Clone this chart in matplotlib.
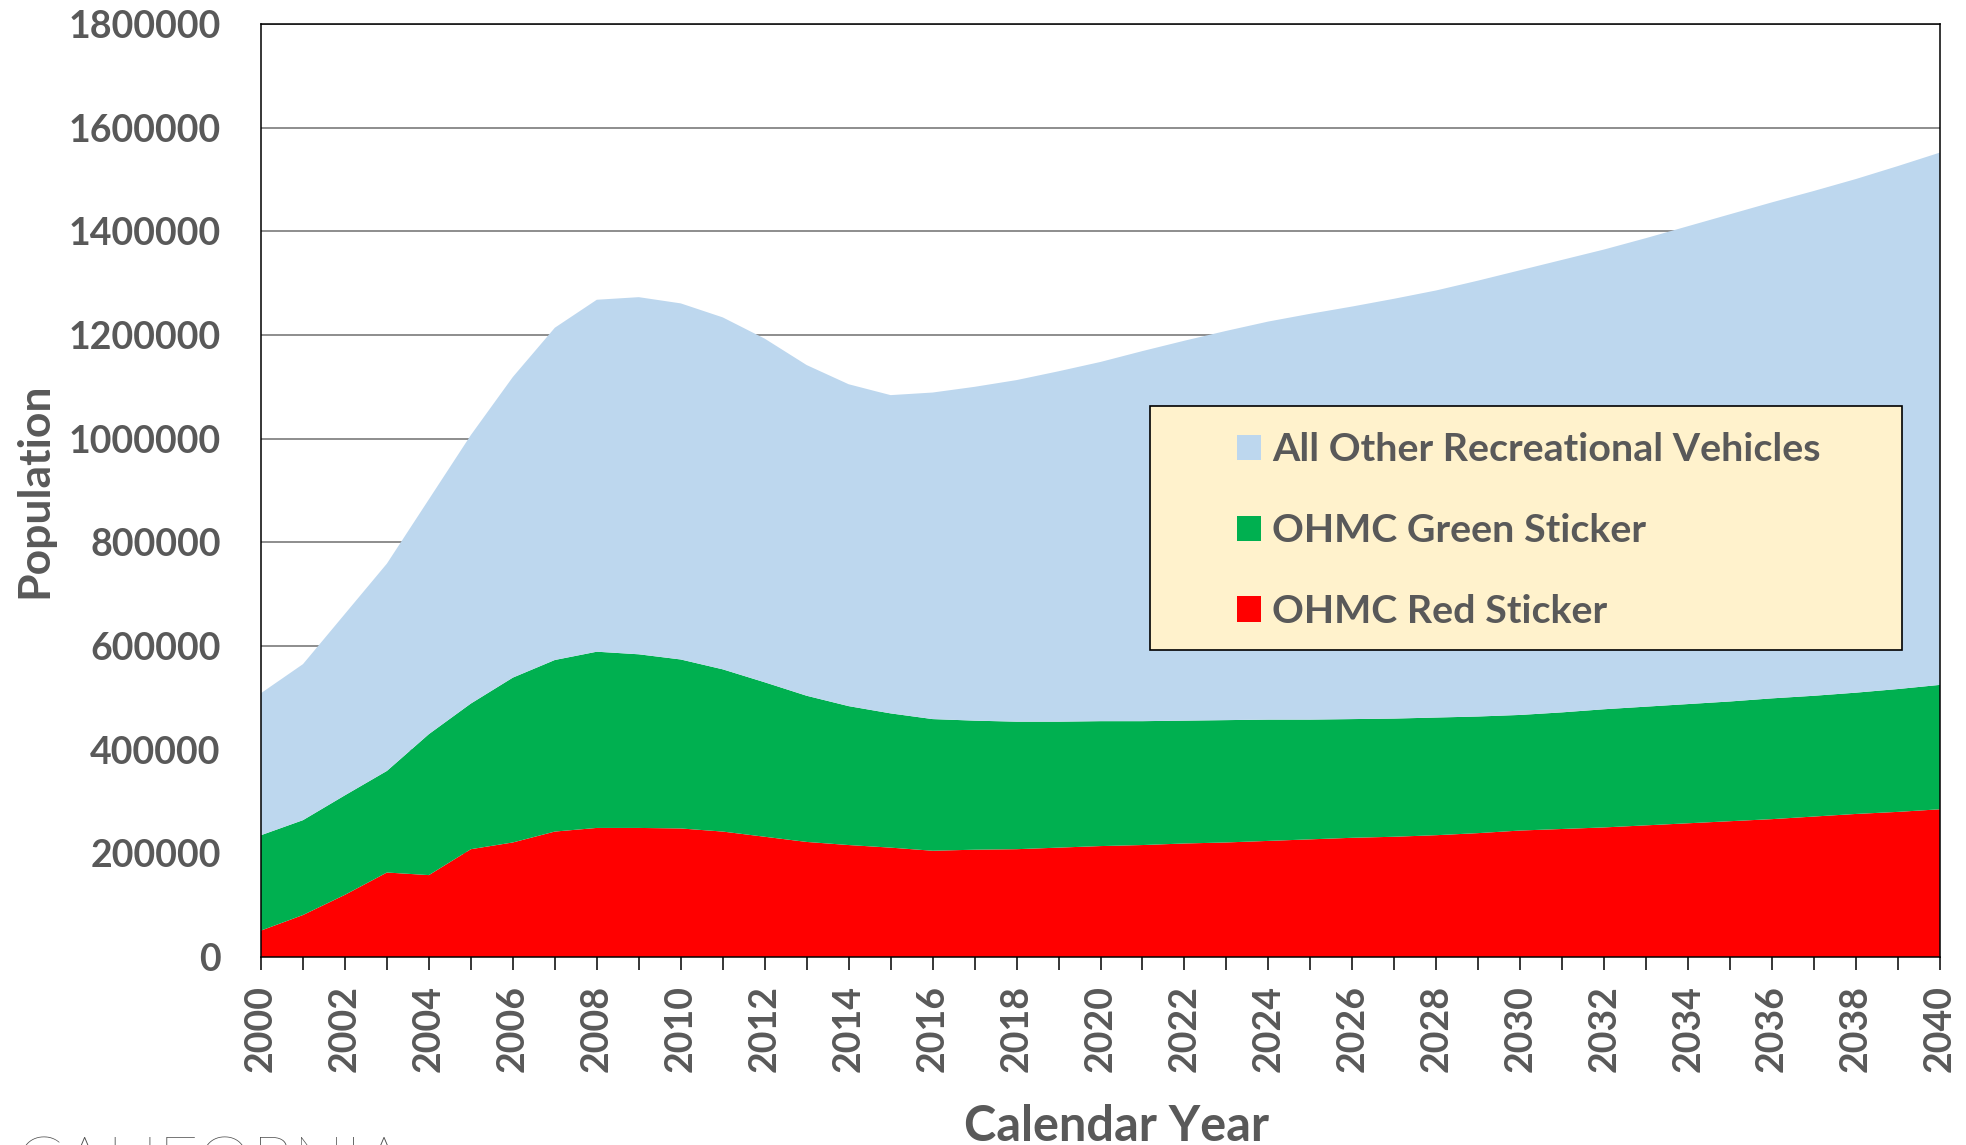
import matplotlib.pyplot as plt
from matplotlib.patches import Rectangle, Patch

plt.rcParams['font.family'] = ['Lato', 'DejaVu Sans']
plt.rcParams['font.weight'] = 'bold'

# dados (populacao por ano, em unidades)
anos = list(range(2000, 2041))
red_sticker = [51000, 81000, 120000, 163000, 158000, 208000, 221000, 242000, 249000, 249000,
               248000, 242000, 232000, 222000, 216000, 211000, 205000, 207000, 208000, 211000,
               214000, 216000, 219000, 221000, 224000, 227000, 230000, 232000, 235000, 239000,
               244000, 247000, 250000, 254000, 258000, 262000, 266000, 271000, 276000, 280000,
               285000]
green_sticker = [184000, 183000, 192000, 196000, 272000, 281000, 318000, 331000, 340000, 335000,
                 326000, 313000, 298000, 282000, 268000, 259000, 254000, 249000, 246000, 243000,
                 241000, 239000, 237000, 236000, 234000, 231000, 229000, 228000, 227000, 225000,
                 223000, 225000, 228000, 229000, 230000, 231000, 233000, 233000, 234000, 237000,
                 240000]
outros = [274000, 301000, 350000, 400000, 453000, 518000, 580000, 641000, 679000, 689000,
          687000, 679000, 663000, 638000, 621000, 614000, 630000, 644000, 659000, 676000,
          693000, 714000, 733000, 751000, 768000, 783000, 796000, 810000, 824000, 841000,
          858000, 873000, 887000, 904000, 922000, 940000, 957000, 974000, 991000, 1009000,
          1027000]

nomes = ['OHMC Red Sticker', 'OHMC Green Sticker', 'All Other Recreational Vehicles']
cores = ['#FF0000', '#00B050', '#BDD7EE']

y_ticks = [0, 200000, 400000, 600000, 800000, 1000000, 1200000, 1400000, 1600000, 1800000]
x_ticks = list(range(2000, 2041, 2))

cinza = '#595959'

fig = plt.figure(figsize=(19.66, 11.45), dpi=100)
ax = fig.add_axes([261 / 1966, 1 - 957 / 1145, 1679 / 1966, 933 / 1145])

ax.stackplot(anos, red_sticker, green_sticker, outros, colors=cores, zorder=2)

ax.set_xlim(2000, 2040)
ax.set_ylim(0, 1800000)
ax.set_yticks(y_ticks)
ax.set_yticklabels([str(v) for v in y_ticks])
ax.set_xticks(x_ticks)
ax.set_xticklabels([str(a) for a in x_ticks], rotation=90)
ax.set_xticks(anos, minor=True)

ax.tick_params(axis='y', length=0, pad=29, labelsize=27, labelcolor=cinza)
ax.tick_params(axis='x', which='both', length=9.4, width=1.1, direction='out', color='black')
ax.tick_params(axis='x', pad=10.5, labelsize=27, labelcolor=cinza)

ax.grid(axis='y', color='#858585', linewidth=1.3, zorder=1)
ax.set_axisbelow(True)
for s in ax.spines.values():
    s.set_color('black')
    s.set_linewidth(1.1)
    s.set_zorder(3)

# caixa da legenda
caixa = Rectangle((0.5295, 0.329), 0.4479, 0.2616, transform=ax.transAxes,
                  facecolor='#FFF2CC', edgecolor='black', linewidth=1.2, zorder=4)
ax.add_patch(caixa)

handles = [Patch(facecolor=cores[i], edgecolor='none') for i in [2, 1, 0]]
labels = [nomes[i] for i in [2, 1, 0]]
leg = ax.legend(handles, labels, loc='upper left', bbox_to_anchor=(0.5813, 0.5623),
                frameon=False, fontsize=28.4, handlelength=0.61, handleheight=0.61,
                handletextpad=0.28, labelspacing=1.16, borderpad=0, borderaxespad=0)
leg.set_zorder(5)
for t in leg.get_texts():
    t.set_color(cinza)
    t.set_fontweight('bold')

fig.text(34 / 1966, 1 - 490 / 1145, 'Population', rotation=90, ha='center', va='center',
         fontsize=32, color=cinza, fontweight='bold')
fig.text(1116 / 1966, 4 / 1145, 'Calendar Year', ha='center', va='baseline',
         fontsize=35, color=cinza, fontweight='bold')
fig.text(15 / 1966, 1 - 1185 / 1145, 'CALIFORNIA', ha='left', va='baseline',
         fontsize=50, color='#4D4D4D', fontweight='light')

fig.savefig('out.png', dpi=100)
